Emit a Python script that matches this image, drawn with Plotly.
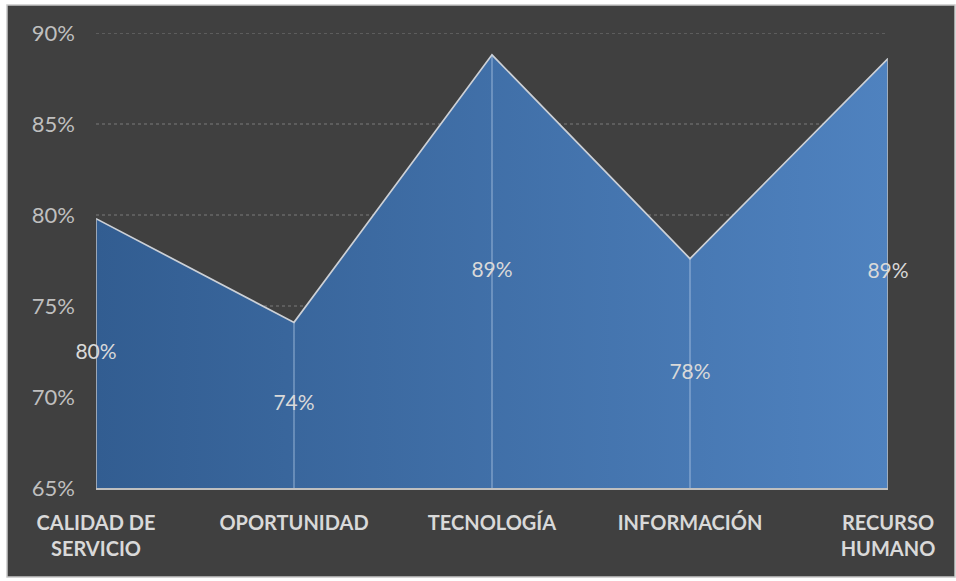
import plotly.graph_objects as go

# Data
categories = ["CALIDAD DE<br>SERVICIO", "OPORTUNIDAD", "TECNOLOGÍA", "INFORMACIÓN", "RECURSO<br>HUMANO"]
values = [0.798, 0.741, 0.888, 0.776, 0.886]
y_ticks = [0.65, 0.70, 0.75, 0.80, 0.85, 0.90]

base = y_ticks[0]
FONT = "Lato"
LABEL_COLOR = "#d9d9d9"
TICK_COLOR = "#bfbfbf"

fig = go.Figure()

# Area with horizontal gradient fill (opaque fillcolor keeps fill-opacity at 1)
fig.add_trace(go.Scatter(
    x=categories, y=values, mode="lines",
    line=dict(color="#cdd1d7", width=1.7),
    fill="tozeroy",
    fillcolor="rgb(64,110,168)",
    fillgradient=dict(type="horizontal",
                      colorscale=[[0, "#325d91"], [1, "#4f82bf"]]),
    hoverinfo="skip", showlegend=False,
))

# Drop lines from each point to the baseline
inner_x, inner_y, edge_x, edge_y = [], [], [], []
for i, (c, v) in enumerate(zip(categories, values)):
    if i in (0, len(categories) - 1):
        edge_x += [c, c, None]
        edge_y += [v, base, None]
    else:
        inner_x += [c, c, None]
        inner_y += [v, base, None]

fig.add_trace(go.Scatter(
    x=inner_x, y=inner_y, mode="lines",
    line=dict(color="rgba(190,210,235,0.55)", width=1.3),
    hoverinfo="skip", showlegend=False,
))
fig.add_trace(go.Scatter(
    x=edge_x, y=edge_y, mode="lines",
    line=dict(color="#b5b9bf", width=1.6),
    hoverinfo="skip", showlegend=False,
))

# Data labels placed halfway between the value and the baseline
fig.add_trace(go.Scatter(
    x=categories, y=[(v + base) / 2 for v in values],
    mode="text",
    text=[f"{round(v * 100)}%" for v in values],
    textposition="middle center",
    textfont=dict(family=FONT, size=21, color=LABEL_COLOR),
    cliponaxis=False,
    hoverinfo="skip", showlegend=False,
))

# Dark chart panel with light frame
fig.add_shape(
    type="rect", xref="paper", yref="paper", layer="below",
    x0=(7 - 96) / 792, x1=(955 - 96) / 792,
    y0=(488 - 577) / 455, y1=(488 - 5) / 455,
    fillcolor="#404040", line=dict(color="#c8c8c8", width=1.5),
)

# Dotted horizontal gridlines on the panel, beneath the area
for t in y_ticks[1:]:
    fig.add_shape(
        type="line", xref="paper", yref="y", layer="below",
        x0=0, x1=1, y0=t, y1=t,
        line=dict(color="#7a7a7a", width=1, dash="dot"),
    )

fig.update_layout(
    width=956, height=581,
    margin=dict(l=96, r=68, t=33, b=93),
    paper_bgcolor="white",
    plot_bgcolor="rgba(0,0,0,0)",
    showlegend=False,
    xaxis=dict(
        type="category", categoryorder="array", categoryarray=categories,
        range=[0, len(categories) - 1],
        showgrid=False, zeroline=False,
        showline=True, linecolor="#bfbfbf", linewidth=1.5,
        ticks="", ticklabelstandoff=16,
        tickfont=dict(family=FONT, size=20, color=LABEL_COLOR, weight=700),
    ),
    yaxis=dict(
        range=[y_ticks[0], y_ticks[-1]], tickvals=y_ticks, tickformat=".0%",
        showgrid=False, zeroline=False, showline=False,
        ticks="", ticklabelstandoff=20,
        tickfont=dict(family=FONT, size=22, color=TICK_COLOR),
    ),
)

fig.write_html("out.html")
